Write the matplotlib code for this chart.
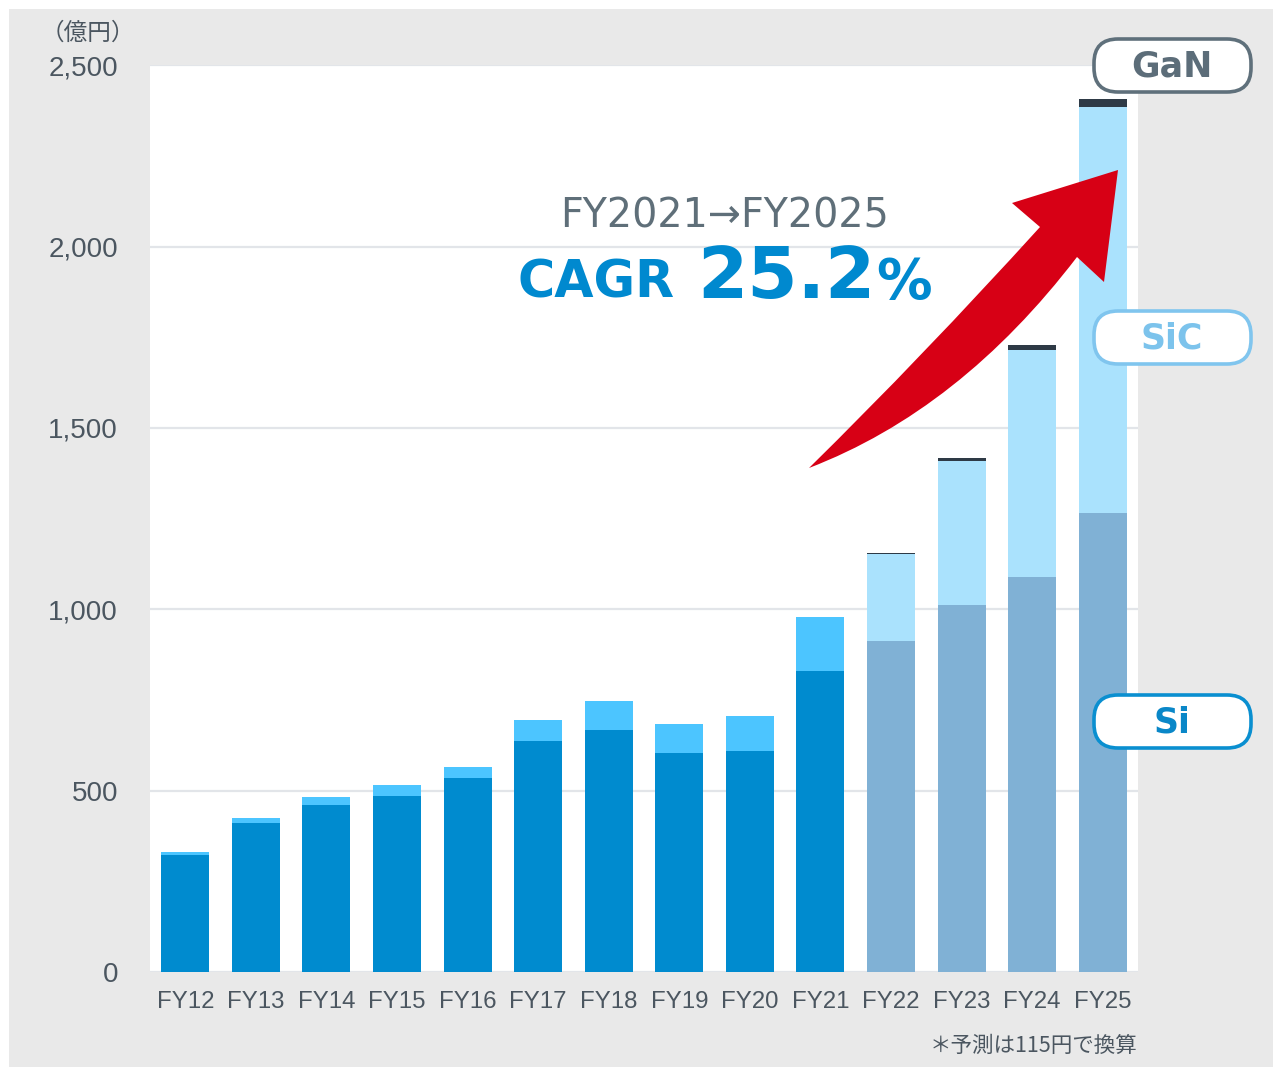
import matplotlib
matplotlib.use("Agg")
import matplotlib.pyplot as plt
from matplotlib.patches import Rectangle, FancyBboxPatch, PathPatch
from matplotlib.path import Path

# ---- data ----
categories = ["FY12", "FY13", "FY14", "FY15", "FY16", "FY17", "FY18",
              "FY19", "FY20", "FY21", "FY22", "FY23", "FY24", "FY25"]
si_values = [323, 410, 461, 485, 534, 636, 667, 603, 609, 830, 912, 1012, 1089, 1265]
sic_values = [7, 13, 22, 29, 32, 58, 80, 81, 97, 149, 239, 398, 625, 1120]
gan_values = [0, 0, 0, 0, 0, 0, 0, 0, 0, 0, 4, 6, 14, 22]
is_forecast = [False] * 10 + [True] * 4
y_ticks = [0, 500, 1000, 1500, 2000, 2500]
y_tick_labels = ["0", "500", "1,000", "1,500", "2,000", "2,500"]
unit_label = "（億円）"
footnote = "＊予測は115円で換算"
cagr_period = "FY2021→FY2025"
cagr_value = "25.2"

W, H = 1273, 1067
fig = plt.figure(figsize=(W / 100, H / 100), dpi=100)
fig.patch.set_facecolor("white")

# background panel
bg = fig.add_axes([0, 0, 1, 1], zorder=0)
bg.set_xlim(0, W); bg.set_ylim(H, 0); bg.axis("off")
bg.add_patch(Rectangle((9, 9), W - 9, H - 9, facecolor="#e9e9e9", edgecolor="none"))

# main axes
left, right, top, bottom = 150, 1138, 65.4, 971.8
ax = fig.add_axes([left / W, (H - bottom) / H, (right - left) / W, (bottom - top) / H], zorder=1)
ax.set_facecolor("white")
x = list(range(len(categories)))
c_si = ["#80b1d5" if f else "#008bcf" for f in is_forecast]
c_sic = ["#aae2fd" if f else "#4cc5ff" for f in is_forecast]
bw = 0.68
ax.bar(x, si_values, width=bw, color=c_si, zorder=2)
ax.bar(x, sic_values, width=bw, bottom=si_values, color=c_sic, zorder=2)
base2 = [a + b for a, b in zip(si_values, sic_values)]
ax.bar(x, gan_values, width=bw, bottom=base2, color="#2e3a46", zorder=2)
ax.set_xlim(-0.5, len(categories) - 0.5)
ax.set_ylim(0, 2500)
ax.set_yticks(y_ticks)
ax.set_yticklabels(y_tick_labels)
ax.set_xticks(x)
ax.set_xticklabels(categories)
ax.yaxis.grid(True, color="#e2e5e9", linewidth=1.6, zorder=0)
ax.set_axisbelow(True)
for s in ax.spines.values():
    s.set_visible(False)
ax.tick_params(axis="both", length=0)
ax.tick_params(axis="y", pad=23, labelsize=20, labelcolor="#4b5660")
ax.tick_params(axis="x", pad=14, labelsize=17.3, labelcolor="#4b5660")
for lab in ax.get_xticklabels() + ax.get_yticklabels():
    lab.set_fontfamily("Liberation Sans")

# overlay
ov = fig.add_axes([0, 0, 1, 1], zorder=3)
ov.set_xlim(0, W); ov.set_ylim(H, 0); ov.axis("off")
ov.patch.set_alpha(0)

ov.text(88, 33, unit_label, ha="center", va="center", fontsize=17,
        family=["Noto Sans CJK JP", "DejaVu Sans"], color="#4b5660")
ov.text(1137, 1046, footnote, ha="right", va="center", fontsize=15.5,
        family=["Noto Sans CJK JP", "DejaVu Sans"], color="#4b5660")

# arrow
verts = [
    (809, 468),
    (923, 356), (1040, 227),
    (1012, 203),
    (1118, 170),
    (1104, 282),
    (1077, 257),
    (960, 410), (809, 468),
    (809, 468),
]
codes = [Path.MOVETO, Path.CURVE3, Path.CURVE3, Path.LINETO, Path.LINETO,
         Path.LINETO, Path.LINETO, Path.CURVE3, Path.CURVE3, Path.CLOSEPOLY]
ov.add_patch(PathPatch(Path(verts, codes), facecolor="#d70015", edgecolor="none"))

# CAGR text
ov.text(725, 227, cagr_period, ha="center", va="baseline", fontsize=28.5,
        family="DejaVu Sans", color="#5f6f79")
ov.text(517, 298, "CAGR", ha="left", va="baseline", fontsize=36.5,
        family="DejaVu Sans", fontweight="bold", color="#0089cf")
ov.text(697, 298, cagr_value, ha="left", va="baseline", fontsize=52,
        family="DejaVu Sans", fontweight="bold", color="#0089cf")
ov.text(876, 298, "%", ha="left", va="baseline", fontsize=40,
        family="DejaVu Sans", fontweight="bold", color="#0089cf")

# labels boxes
def label_box(y0, y1, text, ec, tc):
    ov.add_patch(FancyBboxPatch((1094, y0), 157, y1 - y0,
                                boxstyle="round,pad=0,rounding_size=24",
                                facecolor="white", edgecolor=ec, linewidth=2.6))
    ov.text(1172, (y0 + y1) / 2 + 1, text, ha="center", va="center", fontsize=25,
            family="DejaVu Sans", fontweight="bold", color=tc)

label_box(39, 92, "GaN", "#5f707b", "#5c6d79")
label_box(311, 364, "SiC", "#80c5ee", "#7cc3ec")
label_box(695, 748, "Si", "#0a8fd0", "#0a87c8")

fig.savefig("out.png", dpi=100)
